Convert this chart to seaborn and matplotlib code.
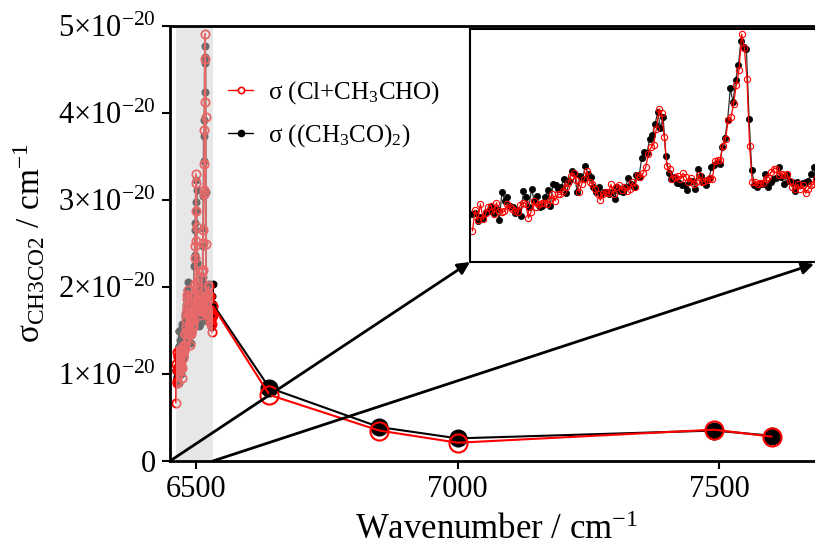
import numpy as np
import pandas as pd
import matplotlib
matplotlib.use("Agg")
import matplotlib.pyplot as plt
from matplotlib.lines import Line2D
import seaborn as sns

SCALE = 1e-20  # values below are in units of 1e-20

# high resolution part (shaded window)
dense_black = [1.03, 1.05, 0.89, 0.96, 0.95, 1.07, 1.10, 1.18, 1.05, 1.14,
               0.90, 1.50, 1.32, 1.39, 1.21, 1.18, 1.05, 1.12, 1.00, 1.54,
               1.39, 1.18, 1.57, 1.32, 1.43, 1.18, 1.21, 1.39, 1.55, 1.21,
               1.68, 1.65, 1.57, 1.61, 1.79, 1.48, 1.75, 1.97, 1.90, 1.50,
               1.86, 1.79, 2.06, 1.90, 1.83, 1.61, 1.50, 1.61, 1.46, 1.50,
               1.50, 1.46, 1.50, 1.36, 1.62, 1.54, 1.50, 1.61, 1.81, 1.67,
               1.61, 1.88, 1.83, 2.24, 2.37, 2.34, 2.66, 2.73, 2.98, 3.23,
               2.89, 3.12, 2.28, 1.91, 1.79, 1.83, 1.70, 1.70, 1.65, 1.65,
               1.55, 1.72, 1.75, 1.57, 2.01, 1.86, 1.72, 1.65, 1.79, 2.04,
               2.10, 2.13, 2.11, 2.47, 2.68, 3.05, 3.74, 3.45, 3.92, 4.24,
               4.77, 4.64, 4.58, 3.09, 1.98, 1.65, 1.61, 1.68, 1.68, 1.90,
               1.62, 1.72, 1.79, 1.81, 2.04, 1.83, 1.68, 1.88, 1.75, 1.72,
               1.54, 1.72, 1.65, 1.70, 1.72, 1.75, 1.90, 2.04, 1.80]
dense_red = [0.67, 1.12, 0.90, 1.25, 0.92, 1.05, 1.19, 1.21, 1.03, 1.28,
             1.09, 1.07, 1.09, 1.25, 1.18, 1.14, 1.10, 1.07, 1.23, 1.28,
             1.26, 0.95, 1.07, 1.32, 1.18, 1.26, 1.28, 1.28, 1.26, 1.33,
             1.46, 1.32, 1.46, 1.46, 1.54, 1.62, 1.70, 1.86, 1.91, 1.77,
             1.50, 1.68, 1.79, 1.96, 1.72, 1.68, 1.57, 1.46, 1.33, 1.46,
             1.50, 1.48, 1.67, 1.46, 1.61, 1.65, 1.55, 1.62, 1.54, 1.57,
             1.72, 1.62, 1.88, 1.83, 1.91, 2.04, 2.33, 2.47, 2.53, 2.87,
             3.30, 3.20, 2.69, 2.06, 2.01, 1.79, 1.84, 1.86, 1.79, 1.91,
             1.84, 1.72, 1.81, 1.68, 1.72, 1.88, 1.72, 1.75, 1.77, 1.81,
             1.79, 2.17, 2.20, 2.20, 2.51, 2.66, 3.07, 3.12, 3.41, 3.81,
             4.13, 4.91, 4.62, 3.95, 2.49, 1.72, 1.72, 1.68, 1.70, 1.70,
             1.79, 1.83, 1.93, 2.01, 2.01, 1.88, 1.90, 1.88, 1.90, 1.74,
             1.61, 1.57, 1.68, 1.57, 1.65, 1.48, 1.57, 1.65, 1.68, 1.78]
# evenly sampled spectrum grid
dense_black_wn = np.linspace(6461.5, 6532.2, len(dense_black))
dense_red_wn = np.linspace(6461.5, 6532.2, len(dense_red))

# coarse points
sparse_wn = [6640, 6850, 7000, 7490, 7600]
sparse_black = [0.84, 0.39, 0.26, 0.35, 0.29]
sparse_red = [0.76, 0.35, 0.21, 0.36, 0.28]

shade_range = (6461, 6532)
xticks = [6500, 7000, 7500]
yticks = [0, 1, 2, 3, 4, 5]
ytick_labels = ["0"] + [f"{v}×10$^{{-20}}$" for v in yticks[1:]]
labels = ["σ (Cl+CH$_3$CHO)", "σ ((CH$_3$CO)$_2$)"]

sns.set_style("ticks")
plt.rcParams["font.family"] = ["Liberation Serif", "DejaVu Serif"]
plt.rcParams["mathtext.fontset"] = "custom"
plt.rcParams["mathtext.rm"] = "Liberation Serif"
plt.rcParams["mathtext.it"] = "Liberation Serif:italic"
plt.rcParams["mathtext.default"] = "regular"
for key in ["text.color", "axes.labelcolor", "xtick.color", "ytick.color", "axes.edgecolor"]:
    plt.rcParams[key] = "black"

black_dense = pd.DataFrame({"wn": dense_black_wn, "s": np.array(dense_black) * SCALE})
red_dense = pd.DataFrame({"wn": dense_red_wn, "s": np.array(dense_red) * SCALE})
black_sparse = pd.DataFrame({"wn": [dense_black_wn[-1]] + sparse_wn,
                             "s": np.array([dense_black[-1]] + sparse_black) * SCALE})
red_sparse = pd.DataFrame({"wn": [dense_red_wn[-1]] + sparse_wn,
                           "s": np.array([dense_red[-1]] + sparse_red) * SCALE})

fig = plt.figure(figsize=(8.15, 5.5), dpi=100)
ax = fig.add_axes([170 / 815, 89 / 550, 654 / 815, 435 / 550])

# main panel
sns.lineplot(data=black_dense, x="wn", y="s", ax=ax, color="black", lw=1.3,
             marker="o", markersize=5, mec="black", mew=0.8,
             sort=False, estimator=None, zorder=2)
sns.lineplot(data=red_dense, x="wn", y="s", ax=ax, color="red", lw=1.3,
             marker="o", markersize=6, mec="red", mfc="none", mew=1.3,
             sort=False, estimator=None, zorder=2)
ax.axvspan(*shade_range, color="#d0d0d0", alpha=0.5, lw=0, zorder=2.5)

sns.lineplot(data=black_sparse, x="wn", y="s", ax=ax, color="black", lw=1.5,
             marker="o", markersize=12, mec="black", mew=1.0, markevery=[1, 2, 3, 4, 5],
             sort=False, estimator=None, zorder=4)
sns.lineplot(data=red_sparse, x="wn", y="s", ax=ax, color="red", lw=1.5,
             marker="o", markersize=13, mec="red", mfc="none", mew=1.5, markevery=[1, 2, 3, 4, 5],
             sort=False, estimator=None, zorder=4)

ax.set_xlim(6450, 7700)
ax.set_ylim(0, 5 * SCALE)
ax.set_xticks(xticks)
ax.set_yticks([v * SCALE for v in yticks])
ax.set_yticklabels(ytick_labels)
ax.tick_params(labelsize=22, direction="out", length=6, width=1.5, pad=4, colors="black")
for side in ["left", "bottom", "top"]:
    ax.spines[side].set_linewidth(2)
    ax.spines[side].set_color("black")
    ax.spines[side].set_visible(True)
ax.set_xlabel("Wavenumber / cm$^{-1}$", fontsize=25, labelpad=7)
ax.set_ylabel("σ$_{\\mathrm{CH3CO2}}$ / cm$^{-1}$", fontsize=24, labelpad=8)

handles = [Line2D([], [], color="red", lw=1, marker="o", markersize=4.5, mfc="white", mec="red", mew=1.2),
           Line2D([], [], color="black", lw=1, marker="o", markersize=4.5, mfc="black", mec="black")]
ax.legend(handles, labels, loc="upper left", bbox_to_anchor=(228 / 815, 1 - 79 / 550),
          bbox_transform=fig.transFigure, frameon=False, fontsize=18, borderpad=0,
          borderaxespad=0, handlelength=1.0, handletextpad=0.6, labelspacing=0.65)

# arrows to the inset
arrow = dict(arrowstyle="-|>", color="black", lw=2, mutation_scale=18, shrinkA=0, shrinkB=0)
ax.annotate("", xy=(470 / 815, 1 - 262 / 550), xycoords="figure fraction",
            xytext=(6450, 0), textcoords="data", arrowprops=arrow, zorder=5)
ax.annotate("", xy=(814 / 815, 1 - 264 / 550), xycoords="figure fraction",
            xytext=(shade_range[1], 0), textcoords="data", arrowprops=arrow, zorder=5)

# inset
axin = fig.add_axes([470 / 815, 1 - 262 / 550, 355 / 815, 233 / 550])
sns.lineplot(data=black_dense, x="wn", y="s", ax=axin, color="#333333", lw=0.9,
             marker="o", markersize=4.5, mec="black", mfc="black", mew=0.5,
             sort=False, estimator=None)
sns.lineplot(data=red_dense, x="wn", y="s", ax=axin, color="red", lw=0.9,
             marker="o", markersize=4.5, mec="red", mfc="none", mew=0.8,
             sort=False, estimator=None)
axin.set_xlim(6461, 6534)
axin.set_ylim(0, 5.02 * SCALE)
axin.set_xticks([])
axin.set_yticks([])
axin.set_xlabel("")
axin.set_ylabel("")
for side in ["left", "bottom", "top"]:
    axin.spines[side].set_linewidth(1.5)
    axin.spines[side].set_color("black")
axin.spines["right"].set_visible(False)

fig.savefig("out.png", dpi=100)
